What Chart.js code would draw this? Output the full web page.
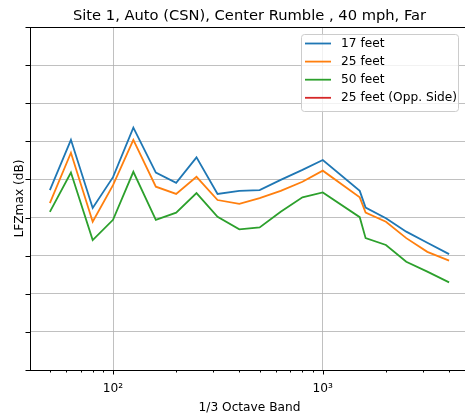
<!DOCTYPE html>
<html>
<head>
<meta charset="utf-8">
<script src="https://cdn.jsdelivr.net/npm/chart.js@4.4.0/dist/chart.umd.min.js"></script>
<style>
  html, body { margin: 0; padding: 0; background: #fff; overflow: hidden; }
  #wrap { width: 465px; height: 417px; overflow: hidden; }
</style>
</head>
<body>
<div id="wrap"><canvas id="chart" width="470" height="417"></canvas></div>
<script>
// 1/3 octave band centre frequencies (Hz)
const bands = [50, 63, 80, 100, 125, 160, 200, 250, 315, 400, 500, 630, 800, 1000, 1500, 1600, 2000, 2500, 3150, 4000];

// LFZmax (dB) per microphone distance
const feet17 = [67.2, 80.4, 62.5, 70.6, 83.6, 71.8, 69.1, 75.8, 66.2, 67.0, 67.2, 69.9, 72.5, 75.1, 67.0, 62.6, 59.8, 56.3, 53.4, 50.4];
const feet25 = [63.8, 77.0, 58.9, 68.5, 80.4, 68.1, 66.2, 70.7, 64.6, 63.6, 65.1, 67.0, 69.4, 72.3, 65.3, 61.3, 58.9, 54.6, 51.0, 48.7];
const feet50 = [61.5, 71.8, 54.1, 59.4, 72.0, 59.4, 61.3, 66.4, 60.2, 56.9, 57.4, 61.5, 65.3, 66.6, 60.1, 54.6, 52.8, 48.4, 45.8, 43.0];
const feet25Opp = []; // no data for the opposite side

const seriesNames = ['17 feet', '25 feet', '50 feet', '25 feet (Opp. Side)'];
const seriesColors = ['#1f77b4', '#ff7f0e', '#2ca02c', '#d62728'];

// x axis ticks
const majorTicks = [100, 1000];
const majorLabels = ['10²', '10³'];
const minorTicks = [50, 60, 70, 80, 90, 200, 300, 400, 500, 600, 700, 800, 900, 2000, 3000, 4000];

const FONT = 'DejaVu Sans';

function toPoints(values) {
  return values.map((v, i) => ({ x: bands[i], y: v }));
}

// spines, tick marks, title and the boxed legend (matplotlib look)
const framePlugin = {
  id: 'frame',
  afterDraw(chart) {
    const { ctx, chartArea: a, scales } = chart;
    ctx.save();

    // spines
    ctx.strokeStyle = '#000';
    ctx.lineWidth = 1;
    ctx.strokeRect(a.left + 0.5, a.top + 0.5, a.right - a.left - 1, a.bottom - a.top);

    // tick marks
    ctx.beginPath();
    majorTicks.forEach(v => {
      const px = Math.round(scales.x.getPixelForValue(v)) + 0.5;
      ctx.moveTo(px, a.bottom);
      ctx.lineTo(px, a.bottom + 4.5);
    });
    minorTicks.forEach(v => {
      const px = Math.round(scales.x.getPixelForValue(v)) + 0.5;
      ctx.moveTo(px, a.bottom);
      ctx.lineTo(px, a.bottom + 2.5);
    });
    scales.y.ticks.forEach(t => {
      const py = Math.round(scales.y.getPixelForValue(t.value)) + 0.5;
      ctx.moveTo(a.left - 4.5, py);
      ctx.lineTo(a.left, py);
    });
    ctx.stroke();

    // title
    ctx.fillStyle = '#000';
    ctx.font = '14.7px "' + FONT + '"';
    ctx.textAlign = 'center';
    ctx.textBaseline = 'alphabetic';
    ctx.fillText('Site 1, Auto (CSN), Center Rumble , 40 mph, Far', (a.left + a.right) / 2, 19.5);

    // legend box
    const bx = 301, by = 34, bw = 157, bh = 77;
    ctx.beginPath();
    ctx.roundRect(bx + 0.5, by + 0.5, bw, bh, 3);
    ctx.fillStyle = 'rgba(255,255,255,0.8)';
    ctx.fill();
    ctx.strokeStyle = '#cccccc';
    ctx.lineWidth = 1;
    ctx.stroke();

    ctx.font = '12.2px "' + FONT + '"';
    ctx.textAlign = 'left';
    ctx.textBaseline = 'middle';
    chart.data.datasets.forEach((ds, i) => {
      const ly = 43.5 + i * 18.1;
      ctx.beginPath();
      ctx.strokeStyle = ds.borderColor;
      ctx.lineWidth = 1.8;
      ctx.moveTo(305, ly);
      ctx.lineTo(331, ly);
      ctx.stroke();
      ctx.fillStyle = '#000';
      ctx.fillText(ds.label, 341, ly + 0.5);
    });

    ctx.restore();
  }
};

const seriesData = [feet17, feet25, feet50, feet25Opp];

new Chart(document.getElementById('chart'), {
  type: 'line',
  data: {
    datasets: seriesData.map((vals, i) => ({
      label: seriesNames[i],
      data: toPoints(vals),
      borderColor: seriesColors[i],
      backgroundColor: seriesColors[i],
      borderWidth: 1.8,
      pointRadius: 0,
      tension: 0,
      fill: false
    }))
  },
  options: {
    responsive: false,
    animation: false,
    devicePixelRatio: 1,
    layout: { padding: { top: 27, right: 1, bottom: 0, left: 0 } },
    plugins: {
      legend: { display: false },
      title: { display: false },
      tooltip: { enabled: false }
    },
    scales: {
      x: {
        type: 'logarithmic',
        position: 'bottom',
        min: 40.2,
        max: 4977,
        afterBuildTicks: (s) => { s.ticks = majorTicks.map(v => ({ value: v })); },
        afterFit: (s) => { s.height = 47; },
        ticks: {
          callback: (v, idx) => majorLabels[idx],
          font: { family: FONT, size: 12.2 },
          color: '#000',
          padding: 12,
          maxRotation: 0,
          autoSkip: false
        },
        grid: { color: '#b0b0b0', lineWidth: 0.8, drawTicks: false },
        border: { display: false },
        title: {
          display: true,
          text: '1/3 Octave Band',
          font: { family: FONT, size: 12.2 },
          color: '#000',
          padding: { top: 0, bottom: 2 }
        }
      },
      y: {
        min: 20,
        max: 110,
        afterFit: (s) => { s.width = 30; },
        ticks: { stepSize: 10, display: false },
        grid: { color: '#b0b0b0', lineWidth: 0.8, drawTicks: false },
        border: { display: false },
        title: {
          display: true,
          text: 'LFZmax (dB)',
          font: { family: FONT, size: 12.2 },
          color: '#000',
          padding: { top: 13, bottom: 0 }
        }
      }
    }
  },
  plugins: [framePlugin]
});
</script>
</body>
</html>
